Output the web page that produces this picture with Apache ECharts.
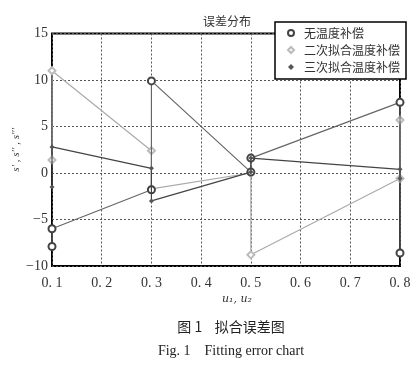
<!DOCTYPE html>
<html><head><meta charset="utf-8">
<script src="https://cdn.jsdelivr.net/npm/echarts@6/dist/echarts.min.js"></script>
<style>html,body{margin:0;padding:0;background:#fff;}#c{width:416px;height:370px;}</style>
</head><body><div id="c"></div>
<script>
var seriesNames = ['无温度补偿', '二次拟合温度补偿', '三次拟合温度补偿'];
var u = [0.1, 0.1, 0.3, 0.3, 0.5, 0.5, 0.8, 0.8];
var sNone = [-7.9, -6.0, -1.8, 9.9, 0.1, 1.6, 7.6, -8.6];
var sQuad = [1.4, 11.0, 2.4, -1.7, 0.0, -8.8, -0.6, 5.7];
var sCubic = [-1.5, 2.8, 0.5, -3.0, 0.1, 1.6, 0.4, -0.6];
var xTicks = ['0. 1', '0. 2', '0. 3', '0. 4', '0. 5', '0. 6', '0. 7', '0. 8'];

function pairs(ys) { return u.map(function (x, i) { return [x, ys[i]]; }); }

var serif = '"Liberation Serif","DejaVu Serif",serif';
var cjk = '"Noto Sans CJK SC",sans-serif';
var chart = echarts.init(document.getElementById('c'), null, {renderer: 'canvas'});
chart.setOption({
  animation: false,
  backgroundColor: '#fff',
  title: [
    {text: '误差分布', left: 222, top: 10, textAlign: 'center',
     textStyle: {fontFamily: cjk, fontSize: 12, fontWeight: 'normal', color: '#333'}},
    {text: '图 1    拟合误差图', left: 226, top: 315, textAlign: 'center',
     textStyle: {fontFamily: cjk, fontSize: 14, fontWeight: 'normal', color: '#222'}},
    {text: 'Fig. 1    Fitting error chart', left: 226, top: 339, textAlign: 'center',
     textStyle: {fontFamily: serif, fontSize: 14, fontWeight: 'normal', color: '#222'}}
  ],
  graphic: [
    {type: 'text', left: 222, top: 294,
     style: {text: 'u₁, u₂', font: 'italic 11px "DejaVu Serif",serif', fill: '#333'}}
  ],
  legend: {
    orient: 'vertical', left: 275, top: 22, width: 127,
    padding: [4, 6, 5, 12], itemGap: 3, itemWidth: 6, itemHeight: 6,
    borderColor: '#000', borderWidth: 1.5, backgroundColor: '#fff',
    textStyle: {fontFamily: cjk, fontSize: 12, color: '#333', padding: [0, 0, 0, 5], lineHeight: 14},
    data: [
      {name: seriesNames[0], icon: 'emptyCircle'},
      {name: seriesNames[1], icon: 'emptyDiamond'},
      {name: seriesNames[2], icon: 'diamond'}
    ]
  },
  grid: {left: 52, right: 16, top: 33.5, bottom: 104, show: true, borderColor: '#000', borderWidth: 2},
  xAxis: {
    type: 'value', min: 0.1, max: 0.8, interval: 0.1,
    axisLine: {show: false}, axisTick: {show: false},
    axisLabel: {margin: 10, fontFamily: serif, fontSize: 14, color: '#333',
      formatter: function (v) { var i = Math.round(v * 10) - 1; return xTicks[i]; }},
    splitLine: {show: true, lineStyle: {type: [2, 2], color: '#555', width: 1}}
  },
  yAxis: {
    type: 'value', min: -10, max: 15, interval: 5,
    name: 's′ , s′′ , s′′′', nameLocation: 'middle', nameGap: 30, nameRotate: 90,
    nameMoveOverlap: false,
    nameTextStyle: {fontFamily: serif, fontStyle: 'italic', fontSize: 11, color: '#333'},
    axisLine: {show: false}, axisTick: {show: false},
    axisLabel: {margin: 4, fontFamily: serif, fontSize: 14, color: '#333',
      formatter: function (v) { return v < 0 ? '−' + (-v) : String(v); }},
    splitLine: {show: true, lineStyle: {type: [2, 2], color: '#555', width: 1}}
  },
  series: [
    {name: seriesNames[0], type: 'line', data: pairs(sNone), symbol: 'emptyCircle', symbolSize: 7,
     lineStyle: {color: '#666', width: 1.2}, itemStyle: {color: '#444', borderWidth: 1.3}, z: 3},
    {name: seriesNames[1], type: 'line', data: pairs(sQuad), symbol: 'emptyDiamond', symbolSize: 7,
     lineStyle: {color: '#aaa', width: 1.2}, itemStyle: {color: '#bbb', borderWidth: 1.2}, z: 2},
    {name: seriesNames[2], type: 'line', data: pairs(sCubic), symbol: 'diamond', symbolSize: 5,
     lineStyle: {color: '#444', width: 1.2}, itemStyle: {color: '#555'}, z: 4}
  ]
});
</script></body></html>
